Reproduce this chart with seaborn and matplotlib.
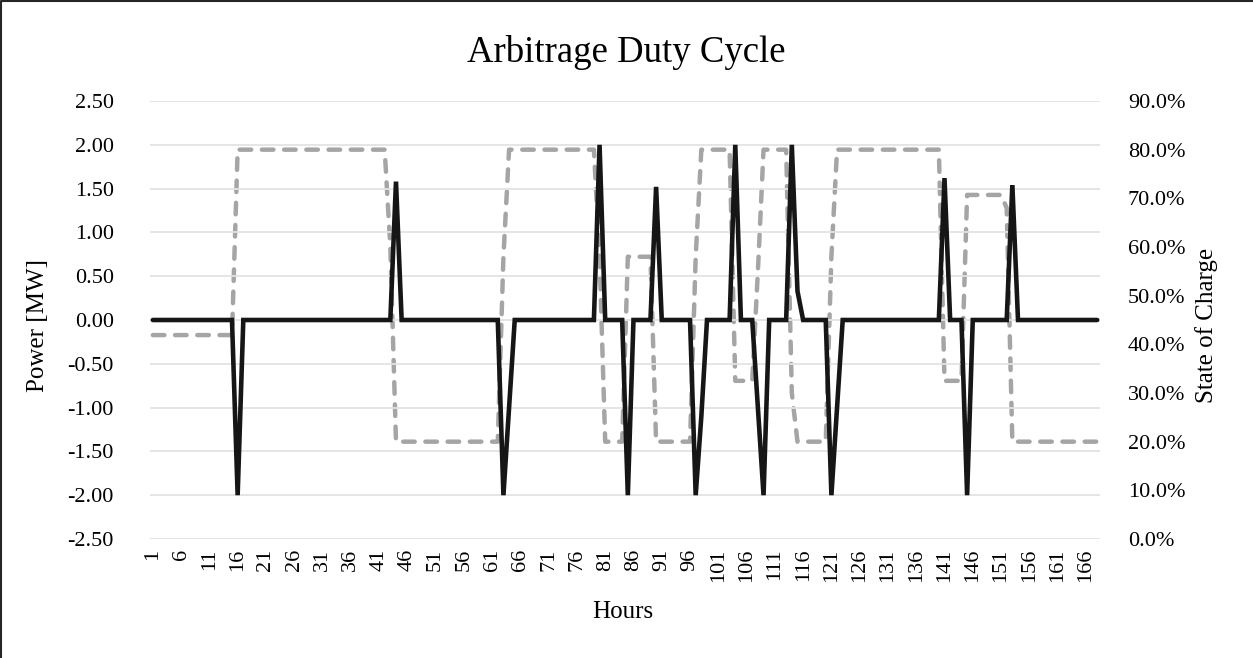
import seaborn as sns
import matplotlib.pyplot as plt
import pandas as pd
from matplotlib.lines import Line2D

# hourly values, one row per day (24 h)
power_mw = [
    0, 0, 0, 0, 0, 0, 0, 0, 0, 0, 0, 0, 0, 0, 0, -2, 0, 0, 0, 0, 0, 0, 0, 0,
    0, 0, 0, 0, 0, 0, 0, 0, 0, 0, 0, 0, 0, 0, 0, 0, 0, 0, 0, 1.58, 0, 0, 0, 0,
    0, 0, 0, 0, 0, 0, 0, 0, 0, 0, 0, 0, 0, 0, -2, -1.0, 0, 0, 0, 0, 0, 0, 0, 0,
    0, 0, 0, 0, 0, 0, 0, 2.0, 0, 0, 0, 0, -2, 0, 0, 0, 0, 1.52, 0, 0, 0, 0, 0, 0,
    -2, -1.1, 0, 0, 0, 0, 0, 2.0, 0, 0, 0, -1.0, -2, 0, 0, 0, 0, 2.0, 0.33, 0, 0, 0, 0, 0,
    -2, -1.0, 0, 0, 0, 0, 0, 0, 0, 0, 0, 0, 0, 0, 0, 0, 0, 0, 0, 0, 1.62, 0, 0, 0,
    -2, 0, 0, 0, 0, 0, 0, 0, 1.54, 0, 0, 0, 0, 0, 0, 0, 0, 0, 0, 0, 0, 0, 0, 0,
]

soc_pct = [
    41.9, 41.9, 41.9, 41.9, 41.9, 41.9, 41.9, 41.9, 41.9, 41.9, 41.9, 41.9, 41.9, 41.9, 41.9, 80, 80, 80, 80, 80, 80, 80, 80, 80,
    80, 80, 80, 80, 80, 80, 80, 80, 80, 80, 80, 80, 80, 80, 80, 80, 80, 80, 60, 20, 20, 20, 20, 20,
    20, 20, 20, 20, 20, 20, 20, 20, 20, 20, 20, 20, 20, 20, 58, 80, 80, 80, 80, 80, 80, 80, 80, 80,
    80, 80, 80, 80, 80, 80, 80, 58, 20, 20, 20, 20, 58, 58, 58, 58, 58, 20, 20, 20, 20, 20, 20, 20,
    58, 80, 80, 80, 80, 80, 80, 32.5, 32.5, 32.5, 32.5, 55, 80, 80, 80, 80, 80, 30, 20, 20, 20, 20, 20, 20,
    58, 80, 80, 80, 80, 80, 80, 80, 80, 80, 80, 80, 80, 80, 80, 80, 80, 80, 80, 80, 32.5, 32.5, 32.5, 32.5,
    70.7, 70.7, 70.7, 70.7, 70.7, 70.7, 70.7, 68, 20, 20, 20, 20, 20, 20, 20, 20, 20, 20, 20, 20, 20, 20, 20, 20,
]

hours = list(range(1, len(power_mw) + 1))
df = pd.DataFrame({'hour': hours, 'power': power_mw, 'soc': soc_pct})

sns.set_style('white')
plt.rcParams['font.family'] = ['Liberation Serif', 'DejaVu Serif']
plt.rcParams['text.color'] = 'black'
plt.rcParams['xtick.color'] = 'black'
plt.rcParams['ytick.color'] = 'black'

fig = plt.figure(figsize=(12.53, 6.58), dpi=100)
ax = fig.add_axes([150 / 1253, 1 - 539 / 658, 950 / 1253, 438 / 658])
ax2 = ax.twinx()

# SOC (dashed grey, right axis)
sns.lineplot(data=df, x='hour', y='soc', ax=ax2, color='#a5a5a5', linewidth=3.2,
             linestyle=(0, (2.6, 2.4)), dash_capstyle='round')
# power (solid black, left axis)
sns.lineplot(data=df, x='hour', y='power', ax=ax, color='#161616', linewidth=3.3,
             solid_capstyle='round', solid_joinstyle='miter', zorder=5)
ax.set_zorder(ax2.get_zorder() + 1)
ax.patch.set_visible(False)

ax.set_xlim(0.5, len(hours) + 0.5)
ax.set_ylim(-2.5, 2.5)
ax2.set_ylim(0, 90)

ax.set_yticks([-2.5 + 0.5 * i for i in range(11)])
ax.set_yticklabels([f'{-2.5 + 0.5 * i:.2f}' for i in range(11)])
ax2.set_yticks([10 * i for i in range(10)])
ax2.set_yticklabels([f'{10 * i:.1f}%' for i in range(10)])
xt = hours[::5]
ax.set_xticks(xt)
ax.set_xticklabels([str(h) for h in xt], rotation=90)

ax.grid(axis='y', color='#e3e3e3', linewidth=1.3)
ax.grid(axis='x', visible=False)
ax2.grid(False)
for a in (ax, ax2):
    for s in a.spines.values():
        s.set_visible(False)
ax.tick_params(axis='y', length=0, pad=26, labelsize=16)
ax.tick_params(axis='x', length=0, pad=7, labelsize=16)
ax2.tick_params(axis='y', length=0, pad=20, labelsize=16)

ax.set_xlabel('')
ax.set_ylabel('')
ax2.set_ylabel('')
fig.text(38 / 1253, 1 - 325 / 658, 'Power [MW]', rotation=90, fontsize=18, ha='center', va='center')
fig.text(1207 / 1253, 1 - 325 / 658, 'State of Charge', rotation=90, fontsize=18, ha='center', va='center')
fig.text(623 / 1253, 1 - 612 / 658, 'Hours', fontsize=18, ha='center', va='center')
fig.text(626 / 1253, 1 - 52 / 658, 'Arbitrage Duty Cycle', fontsize=26.5, ha='center', va='center')

# chart border (left and top edges visible in the reference)
fig.lines.append(Line2D([0.0008, 0.0008, 1], [0, 0.9985, 0.9985], transform=fig.transFigure,
                        color='#262626', linewidth=1.5))

fig.savefig('out.png', dpi=100)
